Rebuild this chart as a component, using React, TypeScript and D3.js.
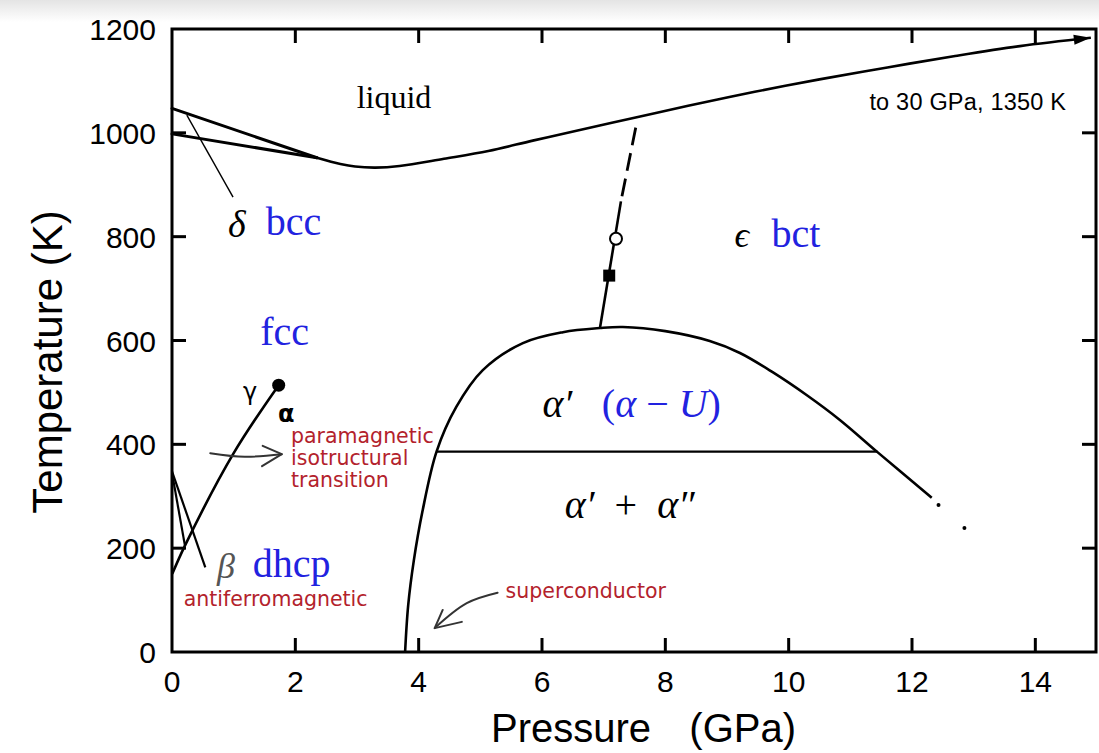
import * as d3 from 'd3';

type Pt = [number, number];

// axis ticks
const pressureTicks = [0, 2, 4, 6, 8, 10, 12, 14];
const temperatureTicks = [0, 200, 400, 600, 800, 1000, 1200];

// phase boundaries, [pressure GPa, temperature K]
const deltaMelting: Pt[] = [[0, 1047], [2.35, 952]];
const bccFcc: Pt[] = [[0, 998], [2.35, 952]];
const melting: Pt[] = [
  [2.35, 952], [2.73, 940], [2.97, 935], [3.3, 933], [3.69, 936], [4.41, 950],
  [5.13, 965], [5.85, 985], [6.56, 1004], [7.5, 1029], [8.37, 1052], [9.45, 1079],
  [10.5, 1103], [11.6, 1126], [12.7, 1148], [13.75, 1167], [14.9, 1183],
];
const epsilonSolid: Pt[] = [[6.94, 624], [7.28, 868]];
// drawn from the top down so the dash pattern starts at the melting line
const epsilonDashed: Pt[] = [[7.52, 1010], [7.28, 868]];
const alphaPrimeDome: Pt[] = [
  [3.78, 0], [3.83, 90], [3.92, 175], [4.06, 270], [4.29, 386], [4.61, 472],
  [5.04, 543], [5.69, 595], [6.34, 616], [6.94, 624], [7.31, 626], [8.0, 618],
  [8.72, 599], [9.21, 576], [9.74, 539], [10.29, 495], [10.83, 447], [11.44, 385],
  [12.32, 297],
];
const domeDots: Pt[] = [[12.43, 283], [12.85, 239]];
const alphaSplit: Pt[] = [[4.29, 386], [11.44, 386]];
const gammaAlpha: Pt[] = [[0.01, 152], [0.21, 205], [1.0, 383], [1.73, 514]];
const betaGamma: Pt[] = [[0, 345], [0.21, 205]];
const betaPointer: Pt[] = [[0, 348], [0.54, 163]];
const criticalPoint: Pt = [1.73, 514];
const openCirclePoint: Pt = [7.2, 796];
const squarePoint: Pt = [7.09, 725];

// annotation pointers
const deltaPointer: Pt[] = [[0.24, 1034], [0.99, 876]];
const paraArrow: Pt[] = [[0.62, 383], [1.18, 376], [1.78, 381]];
const paraHead: Pt[] = [[1.47, 397], [1.78, 381], [1.46, 358]];
const superArrow: Pt[] = [[5.28, 114], [4.78, 94], [4.26, 46]];
const superHead: Pt[] = [[4.39, 81], [4.26, 46], [4.7, 58]];

const W = 1099;
const H = 753;

export default function App() {
  const x = d3.scaleLinear().domain([0, 15]).range([172, 1097]);
  const y = d3.scaleLinear().domain([0, 1200]).range([652, 29]);

  const smooth = d3.line<Pt>().x((d) => x(d[0])).y((d) => y(d[1])).curve(d3.curveCatmullRom.alpha(0.5));
  const straight = d3.line<Pt>().x((d) => x(d[0])).y((d) => y(d[1]));

  const left = 172;
  const right = 1096;
  const top = 29;
  const bottom = 652;

  // arrow head at the end of the melting curve
  const a = melting[melting.length - 2];
  const b = melting[melting.length - 1];
  const ang = Math.atan2(y(b[1]) - y(a[1]), x(b[0]) - x(a[0]));
  const tipX = x(b[0]);
  const tipY = y(b[1]);
  const hl = 17;
  const hw = 5;
  const head = [
    [tipX, tipY],
    [tipX - hl * Math.cos(ang) + hw * Math.sin(ang), tipY - hl * Math.sin(ang) - hw * Math.cos(ang)],
    [tipX - hl * Math.cos(ang) - hw * Math.sin(ang), tipY - hl * Math.sin(ang) + hw * Math.cos(ang)],
  ].map((p) => p.join(',')).join(' ');

  const serif = '"Liberation Serif", "DejaVu Serif", serif';
  const sans = '"Liberation Sans", Arial, sans-serif';
  const red = '#b3222c';
  const blue = '#2222e0';
  const redFont = '"DejaVu Sans", sans-serif';

  return (
    <div style={{ position: 'absolute', left: 0, top: 0 }}>
      <svg width={W} height={H} style={{ display: 'block' }}>
        <defs>
          <linearGradient id="topfade" x1="0" y1="0" x2="0" y2="1">
            <stop offset="0" stopColor="#e4e4e4" />
            <stop offset="1" stopColor="#ffffff" />
          </linearGradient>
        </defs>
        <rect x={0} y={0} width={W} height={H} fill="#fff" />
        <rect x={0} y={0} width={W} height={22} fill="url(#topfade)" />

        {/* frame */}
        <rect x={left} y={top} width={right - left} height={bottom - top} fill="none" stroke="#000" strokeWidth={3} />
        {pressureTicks.filter((p) => p > 0).map((p) => (
          <g key={'pt' + p}>
            <line x1={x(p)} x2={x(p)} y1={bottom} y2={bottom - 14} stroke="#000" strokeWidth={3} />
            <line x1={x(p)} x2={x(p)} y1={top} y2={top + 14} stroke="#000" strokeWidth={3} />
          </g>
        ))}
        {temperatureTicks.filter((t) => t > 0 && t < 1200).map((t) => (
          <g key={'tt' + t}>
            <line x1={left} x2={left + 14} y1={y(t)} y2={y(t)} stroke="#000" strokeWidth={3} />
            <line x1={right} x2={right - 14} y1={y(t)} y2={y(t)} stroke="#000" strokeWidth={3} />
          </g>
        ))}

        {/* tick labels */}
        {pressureTicks.map((p) => (
          <text key={'pl' + p} x={x(p)} y={692} textAnchor="middle" fontFamily={sans} fontSize={30}>
            {p}
          </text>
        ))}
        {temperatureTicks.map((t) => (
          <text key={'tl' + t} x={156} y={y(t) + 11} textAnchor="end" fontFamily={sans} fontSize={30}>
            {t}
          </text>
        ))}

        {/* axis titles */}
        <text x={491} y={742} fontFamily={sans} fontSize={40}>Pressure</text>
        <text x={796} y={742} textAnchor="end" fontFamily={sans} fontSize={40}>(GPa)</text>
        <text
          transform={`translate(62,362) rotate(-90)`}
          textAnchor="middle"
          fontFamily={sans}
          fontSize={42}
        >
          Temperature (K)
        </text>

        {/* phase boundaries */}
        <g fill="none" stroke="#000" strokeLinejoin="round">
          <path d={straight(deltaMelting) ?? ''} strokeWidth={3} strokeLinecap="round" />
          <path d={straight(bccFcc) ?? ''} strokeWidth={3} strokeLinecap="round" />
          <path d={smooth(melting) ?? ''} strokeWidth={2.6} />
          <path d={straight(epsilonSolid) ?? ''} strokeWidth={2.6} />
          <path d={straight(epsilonDashed) ?? ''} strokeWidth={2.8} strokeDasharray="18 8" />
          <path d={smooth(alphaPrimeDome) ?? ''} strokeWidth={2.6} />
          <path d={straight(alphaSplit) ?? ''} strokeWidth={2.2} />
          <path d={smooth(gammaAlpha) ?? ''} strokeWidth={2.6} strokeLinecap="round" />
          <path d={straight(betaGamma) ?? ''} strokeWidth={2.2} />
          <path d={straight(betaPointer) ?? ''} strokeWidth={2.2} />
          <path d={straight(deltaPointer) ?? ''} strokeWidth={1.4} />
        </g>
        <polygon points={head} fill="#000" />
        {domeDots.map((d, i) => (
          <circle key={'dd' + i} cx={x(d[0])} cy={y(d[1])} r={2} fill="#000" />
        ))}
        <circle cx={x(criticalPoint[0])} cy={y(criticalPoint[1])} r={6.5} fill="#000" />
        <circle cx={x(openCirclePoint[0])} cy={y(openCirclePoint[1])} r={6} fill="#fff" stroke="#000" strokeWidth={2} />
        <rect x={x(squarePoint[0]) - 6} y={y(squarePoint[1]) - 6} width={12} height={12} fill="#000" />

        {/* hand-drawn arrows */}
        <g fill="none" stroke="#333" strokeWidth={2} strokeLinecap="round" strokeLinejoin="round">
          <path d={smooth(paraArrow) ?? ''} />
          <path d={straight(paraHead) ?? ''} />
          <path d={smooth(superArrow) ?? ''} />
          <path d={straight(superHead) ?? ''} />
        </g>

        {/* phase labels */}
        <text x={x(3.6)} y={y(1048)} textAnchor="middle" fontFamily={serif} fontSize={32}>liquid</text>
        <text x={x(14.5)} y={y(1044)} textAnchor="end" fontFamily={sans} fontSize={23.5} letterSpacing={0.2}>
          to 30 GPa, 1350 K
        </text>
        <text x={x(0.91)} y={y(799)} fontFamily={serif} fontStyle="italic" fontSize={38}>δ</text>
        <text x={x(1.52)} y={y(803)} fontFamily={serif} fontSize={40} fill={blue}>bcc</text>
        <text x={x(9.12)} y={y(780)} fontFamily={serif} fontStyle="italic" fontSize={36}>ϵ</text>
        <text x={x(9.72)} y={y(780)} fontFamily={serif} fontSize={40} fill={blue}>bct</text>
        <text x={x(1.43)} y={y(591)} fontFamily={serif} fontSize={40} fill={blue}>fcc</text>
        <text x={x(1.15)} y={y(485)} fontFamily={redFont} fontSize={24}>γ</text>
        <text x={x(1.72)} y={y(443)} fontFamily={redFont} fontWeight="bold" fontSize={24}>α</text>
        <text fontFamily={redFont} fontSize={20.5} fill={red}>
          <tspan x={x(1.93)} y={y(403)}>paramagnetic</tspan>
          <tspan x={x(1.93)} y={y(360)}>isotructural</tspan>
          <tspan x={x(1.93)} y={y(318)}>transition</tspan>
        </text>
        <text x={x(0.73)} y={y(143)} fontFamily={serif} fontStyle="italic" fontSize={36} fill="#555">β</text>
        <text x={x(1.31)} y={y(144)} fontFamily={serif} fontSize={40} fill={blue}>dhcp</text>
        <text x={x(0.19)} y={y(89)} fontFamily={redFont} fontSize={20.5} fill={red}>antiferromagnetic</text>
        <text x={x(5.41)} y={y(104)} fontFamily={redFont} fontSize={20.5} fill={red}>superconductor</text>
        <text x={x(6.01)} y={y(453)} fontFamily={serif} fontStyle="italic" fontSize={40}>α′</text>
        <text x={x(6.97)} y={y(453)} fontFamily={serif} fontSize={40} fill={blue} style={{ whiteSpace: 'pre' }}>
          (<tspan fontStyle="italic">α</tspan>{'\u2005−\u2005'}<tspan fontStyle="italic">U</tspan>)
        </text>
        <text x={x(6.37)} y={y(258)} fontFamily={serif} fontSize={40} style={{ whiteSpace: 'pre' }}>
          <tspan fontStyle="italic">α′</tspan>{'\u2002+\u2002'}<tspan fontStyle="italic">α″</tspan>
        </text>
      </svg>
    </div>
  );
}
